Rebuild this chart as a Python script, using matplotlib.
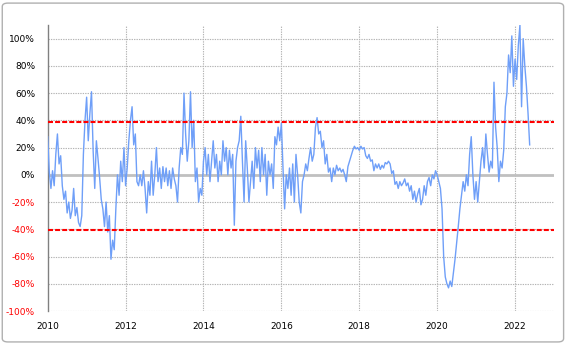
import numpy as np
import matplotlib
matplotlib.use('Agg')
import matplotlib.pyplot as plt
from matplotlib.patches import FancyBboxPatch

# half-month samples, starting 2010.0 (percent)
start_year = 2010.0
step = 1 / 24
values = [
    # 2010
    28, 2, -10, 3, -8, 15, 30, 8, 14, -8, -18, -12,
    -28, -20, -32, -26, -10, -30, -24, -35, -38, -30, 15, 40,
    # 2011
    57, 25, 45, 61, 18, -10, 25, 12, -2, -18, -25, -38,
    -20, -42, -30, -62, -48, -55, -25, 0, -15, 10, -5, 20,
    # 2012
    -8, 5, 25, 40, 50, 22, 30, -5, -8, 0, -8, 3,
    -10, -28, -5, -15, 10, -15, 0, 20, -5, 5, -10, 6,
    # 2013
    -5, 5, -8, 3, -10, 5, -3, -8, -20, 5, 20, 15,
    60, 30, 10, 25, 61, 20, 40, -5, 5, -20, -10, -15,
    # 2014
    10, 20, 0, 15, -5, 10, 25, 5, 15, -5, 10, 0,
    25, 10, 20, 0, 18, 5, 15, -37, 10, 20, 25, 43,
    # 2015
    10, -20, 25, 5, -20, -5, 10, -10, 20, 5, 18, -5,
    20, 0, 15, -15, 10, 0, 8, -10, 28, 22, 35, 25,
    # 2016
    38, 5, -25, 0, -10, 5, -15, 8, -20, 15, 0, -20,
    -28, -5, 0, 8, 3, 12, 20, 10, 15, 35, 42, 30,
    # 2017
    32, 20, 25, 8, 15, 2, 5, -5, 5, 0, 7, 3,
    5, 2, 4, 0, -5, 6, 10, 14, 18, 21, 19, 20,
    # 2018
    18, 21, 19, 20, 14, 12, 15, 10, 11, 3, 8, 5,
    8, 4, 7, 5, 9, 8, 10, 8, 1, 3, -7, -5,
    # 2019
    -10, -5, -8, -6, -3, -8, -6, -12, -8, -18, -12, -20,
    -14, -10, -22, -18, -8, -15, -5, -2, -8, 0, -3, 3,
    # 2020
    0, -5, -10, -25, -60, -75, -80, -83, -78, -82, -72, -62,
    -50, -38, -25, -15, -5, -12, 0, -8, 15, 28, 0, -18,
    # 2021
    -5, -20, -5, 10, 20, 5, 30, 15, 2, 10, 5, 68,
    35, 20, -5, 10, 5, 18, 50, 60, 88, 75, 102, 65,
    # 2022
    85, 70, 95, 110, 50, 100, 80, 65, 45, 22,
]
years = start_year + step * np.arange(len(values))

upper_band = 38.6
lower_band = -40.4
y_ticks = list(range(-100, 101, 20))
x_ticks = [2010, 2012, 2014, 2016, 2018, 2020, 2022]

fig = plt.figure(figsize=(5.67, 3.44), dpi=100)
# chart area frame
fig.patches.append(FancyBboxPatch((0.004, 0.006), 0.99, 0.985, transform=fig.transFigure,
                                  boxstyle='round,pad=0,rounding_size=0.01',
                                  fill=False, edgecolor='#b0b0b0', linewidth=1))
ax = fig.add_axes([0.0841, 0.0959, 0.893, 0.8314])

# grid
grid_style = dict(color='#b4b4b4', linewidth=0.8, linestyle=(0, (1.2, 1)), zorder=1)
for v in y_ticks:
    if v != 0:
        ax.axhline(v, **grid_style)
for yr in x_ticks[1:]:
    ax.axvline(yr, **grid_style)
ax.axhline(0, color='#c0c0c0', linewidth=2, zorder=1)

ax.plot(years, values, color='#6f9ff8', linewidth=1.0, zorder=3)

ax.axhline(upper_band, color='#ff0000', linewidth=1.5, linestyle=(0, (2.4, 1)), zorder=4)
ax.axhline(lower_band, color='#ff0000', linewidth=1.5, linestyle=(0, (2.4, 1)), zorder=4)

ax.set_xlim(2010, 2023)
ax.set_ylim(-100, 110)
ax.set_yticks(y_ticks)
ax.set_yticklabels([f'{v}%' for v in y_ticks], fontsize=6.5)
for lbl, v in zip(ax.get_yticklabels(), y_ticks):
    lbl.set_color('#ff0000' if v < 0 else 'black')
ax.set_xticks(x_ticks)
ax.set_xticklabels([str(x) for x in x_ticks], fontsize=6.5)
ax.tick_params(axis='y', length=0, pad=9)
ax.tick_params(axis='x', length=0, pad=8)

for side in ['top', 'right', 'bottom']:
    ax.spines[side].set_visible(False)
ax.spines['left'].set_color('#808080')
ax.spines['left'].set_linewidth(1)

fig.savefig('out.png', dpi=100)
